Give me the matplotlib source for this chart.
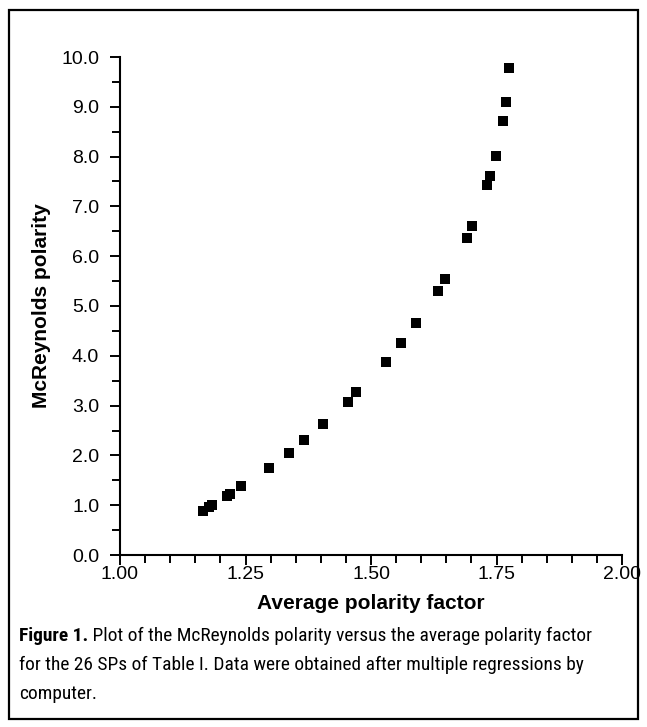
import matplotlib
matplotlib.use("Agg")
import matplotlib.pyplot as plt
from matplotlib.patches import Rectangle
from matplotlib.ticker import MultipleLocator, FormatStrFormatter
from matplotlib import font_manager

avg_polarity_factor = [1.166, 1.178, 1.184, 1.214, 1.219, 1.242, 1.296, 1.336, 1.367,
                       1.405, 1.454, 1.470, 1.529, 1.559, 1.589, 1.633, 1.648, 1.691,
                       1.701, 1.732, 1.737, 1.749, 1.762, 1.768, 1.774]
mcreynolds_polarity = [0.89, 0.96, 1.00, 1.19, 1.23, 1.39, 1.75, 2.05, 2.31,
                       2.64, 3.08, 3.28, 3.87, 4.25, 4.65, 5.30, 5.55, 6.37,
                       6.60, 7.43, 7.61, 8.02, 8.71, 9.09, 9.77]
x_ticks = [1.00, 1.25, 1.50, 1.75, 2.00]
y_ticks = [0.0, 1.0, 2.0, 3.0, 4.0, 5.0, 6.0, 7.0, 8.0, 9.0, 10.0]
x_label = "Average polarity factor"
y_label = "McReynolds polarity"
caption_bold = "Figure 1."
caption_rest = [" Plot of the McReynolds polarity versus the average polarity factor",
                "for the 26 SPs of Table I. Data were obtained after multiple regressions by",
                "computer."]

names = {f.name for f in font_manager.fontManager.ttflist}
narrow = "DejaVu Sans"
for cand in ["Roboto Condensed", "Liberation Sans Narrow", "Open Sans Condensed",
             "Noto Sans Condensed", "Roboto", "Lato", "Liberation Sans"]:
    if cand in names:
        narrow = cand
        break
sans = "Liberation Sans"
plt.rcParams["font.family"] = [sans, "DejaVu Sans"]

W, H = 647, 727
fig = plt.figure(figsize=(W / 100, H / 100), dpi=100)
ax = fig.add_axes([120 / W, 1 - 555 / H, (622 - 120) / W, (555 - 57) / H])

ax.scatter(avg_polarity_factor, mcreynolds_polarity, marker="s", s=48, color="black",
           linewidths=0, zorder=3)

ax.set_xlim(1.0, 2.0)
ax.set_ylim(0.0, 10.0)
ax.set_xticks(x_ticks)
ax.set_yticks(y_ticks)
ax.xaxis.set_minor_locator(MultipleLocator(0.05))
ax.yaxis.set_minor_locator(MultipleLocator(0.5))
ax.xaxis.set_major_formatter(FormatStrFormatter("%.2f"))
ax.yaxis.set_major_formatter(FormatStrFormatter("%.1f"))
for s in ["top", "right"]:
    ax.spines[s].set_visible(False)
for s in ["left", "bottom"]:
    ax.spines[s].set_linewidth(1.5)
ax.tick_params(axis="both", which="major", direction="out", length=7, width=1.4,
               labelsize=14)
ax.tick_params(axis="both", which="minor", direction="out", length=6, width=1.4)
ax.tick_params(axis="y", which="major", pad=8)
ax.tick_params(axis="x", which="major", pad=1)

ax.set_xlabel(x_label, fontsize=15, fontweight="bold", labelpad=8)
ax.set_ylabel(y_label, fontsize=15, fontweight="bold", labelpad=7)

# caption, fitted so the first line spans the same width as the reference
cap_size = 12.5
target_w = 591 - 19
y0 = 1 - 636 / H
fig.canvas.draw()
r = fig.canvas.get_renderer()
for _ in range(3):
    tb = fig.text(0, 0, caption_bold, fontsize=cap_size, fontweight="bold", family=narrow)
    tr = fig.text(0, 0, caption_rest[0], fontsize=cap_size, family=narrow)
    w = tb.get_window_extent(r).width + tr.get_window_extent(r).width
    tb.remove()
    tr.remove()
    cap_size *= target_w / w
t = fig.text(19 / W, y0, caption_bold, fontsize=cap_size, fontweight="bold", family=narrow,
             va="center", ha="left")
bb = t.get_window_extent(r)
fig.text(bb.x1 / W, y0, caption_rest[0], fontsize=cap_size, family=narrow, va="center", ha="left")
fig.text(19 / W, 1 - 665 / H, caption_rest[1], fontsize=cap_size, family=narrow, va="center", ha="left")
fig.text(19 / W, 1 - 694 / H, caption_rest[2], fontsize=cap_size, family=narrow, va="center", ha="left")

fig.patches.append(Rectangle((9 / W, 1 - 719 / H), (638 - 9) / W, (719 - 10) / H,
                             transform=fig.transFigure, fill=False, edgecolor="black",
                             linewidth=1.6))

fig.savefig("out.png", dpi=100)
